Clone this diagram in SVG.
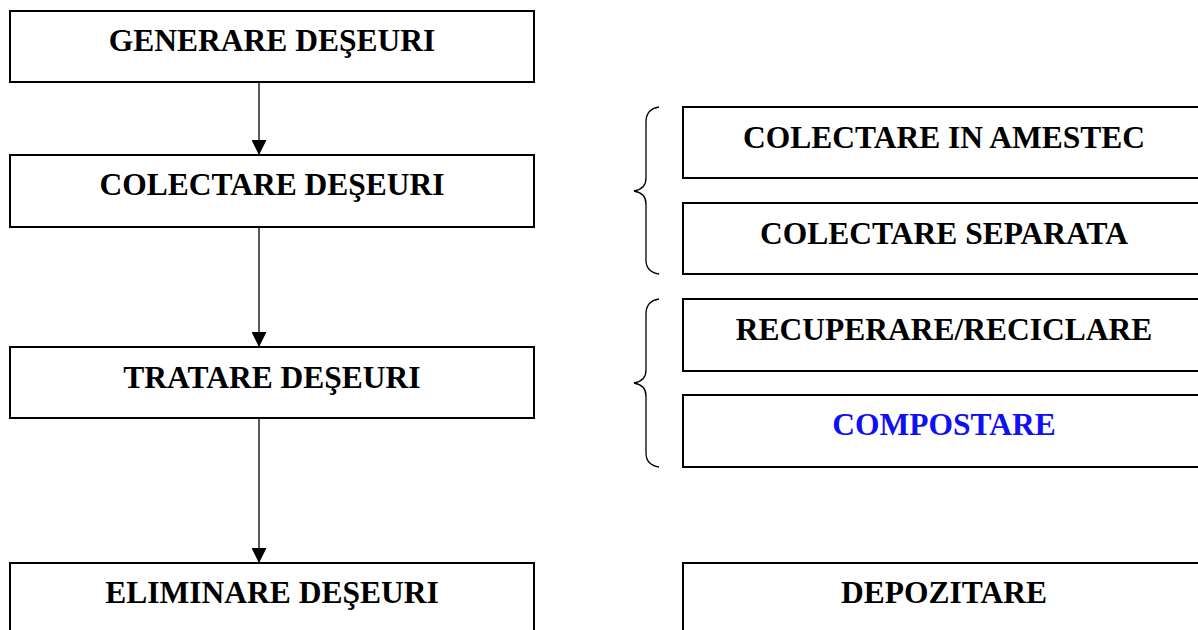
<svg xmlns="http://www.w3.org/2000/svg" width="1198" height="630" viewBox="0 0 1198 630">
<defs>
<style>
.box{fill:#fff;stroke:#000;stroke-width:2}
.t{font-family:"Liberation Serif","Times New Roman",serif;font-weight:bold;font-size:31.5px;fill:#000;text-anchor:middle}
.blue{fill:#1010f0}
.conn{stroke:#000;stroke-width:1.3;fill:none}
.brace{stroke:#000;stroke-width:1.3;fill:none}
</style>
<marker id="ah" markerWidth="15" markerHeight="15" refX="15" refY="7.5" orient="auto" markerUnits="userSpaceOnUse">
<path d="M0,0 L15,7.5 L0,15 Z" fill="#000"/>
</marker>
</defs>
<rect width="1198" height="630" fill="#fff"/>
<g id="connectors">
<line class="conn" x1="259" y1="82" x2="259" y2="155" marker-end="url(#ah)"/>
<line class="conn" x1="259" y1="227" x2="259" y2="347" marker-end="url(#ah)"/>
<line class="conn" x1="259" y1="418" x2="259" y2="563" marker-end="url(#ah)"/>
</g>
<g id="braces">
<path class="brace" d="M659,107 Q646,109 646,122 L646,178 Q646,189 634,191 Q646,193 646,204 L646,260 Q646,272 659,274"/>
<path class="brace" d="M659,299 Q646,301 646,314 L646,370 Q646,381 634,383 Q646,385 646,396 L646,453 Q646,465 659,467"/>
</g>
<g id="generare"><rect class="box" x="10" y="11" width="524" height="71"/><text class="t" x="272" y="51">GENERARE DEŞEURI</text></g>
<g id="colectare"><rect class="box" x="10" y="155" width="524" height="72"/><text class="t" x="272" y="195">COLECTARE DEŞEURI</text></g>
<g id="tratare"><rect class="box" x="10" y="347" width="524" height="71"/><text class="t" x="272" y="388">TRATARE DEŞEURI</text></g>
<g id="eliminare"><rect class="box" x="10" y="563" width="524" height="80"/><text class="t" x="272" y="603">ELIMINARE DEŞEURI</text></g>
<g id="amestec"><rect class="box" x="683" y="107" width="530" height="71"/><text class="t" x="944" y="148">COLECTARE IN AMESTEC</text></g>
<g id="separata"><rect class="box" x="683" y="203" width="530" height="71"/><text class="t" x="944" y="244">COLECTARE SEPARATA</text></g>
<g id="recuperare"><rect class="box" x="683" y="299" width="530" height="72"/><text class="t" x="944" y="340">RECUPERARE/RECICLARE</text></g>
<g id="compostare"><rect class="box" x="683" y="395" width="530" height="72"/><text class="t blue" x="944" y="435">COMPOSTARE</text></g>
<g id="depozitare"><rect class="box" x="683" y="563" width="530" height="80"/><text class="t" x="944" y="603">DEPOZITARE</text></g>
</svg>
